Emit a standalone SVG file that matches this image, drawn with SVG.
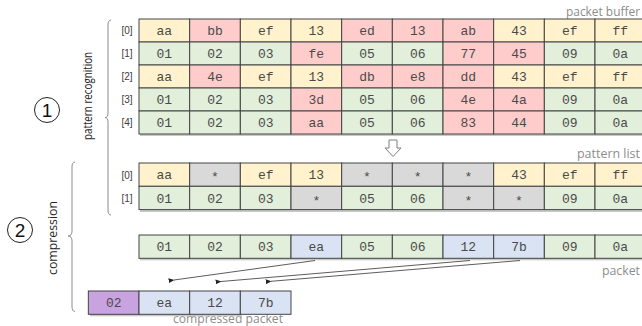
<svg xmlns="http://www.w3.org/2000/svg" width="642" height="326" viewBox="0 0 642 326">
<style>
rect.c{stroke:#444;stroke-width:1}
.y{fill:#fff2cc}.r{fill:#ffcccc}.g{fill:#e2efda}.s{fill:#d9d9d9}.b{fill:#dae3f3}.p{fill:#c9a3e0}
.t{font-family:"Liberation Mono",monospace;font-size:13px;fill:#4a4a4a;text-anchor:middle}
.idx{font-family:"Liberation Sans",sans-serif;font-size:10px;fill:#404040;text-anchor:middle}
.lbl{font-family:"Open Sans","Liberation Sans",sans-serif;font-size:12px;fill:#8c8c8c}
.vt{font-family:"Open Sans","Liberation Sans",sans-serif;font-size:13.5px;fill:#262626;text-anchor:middle}
.num{font-family:"Liberation Sans",sans-serif;font-size:19px;fill:#111;text-anchor:middle}
.brace{fill:none;stroke:#8c8c8c;stroke-width:1}
.sh{fill:#c8c8c8}
</style>
<defs>
<marker id="ah" viewBox="0 0 10 10" refX="1" refY="5" markerWidth="6" markerHeight="6" orient="auto-start-reverse" markerUnits="userSpaceOnUse">
<path d="M0,5 L10,1 L10,9 Z" fill="#222"/>
</marker>
</defs>

<g id="labels">
<text class="lbl" x="640" y="16" text-anchor="end" textLength="74" lengthAdjust="spacingAndGlyphs">packet buffer</text>
<text class="lbl" x="640" y="158" text-anchor="end" textLength="63" lengthAdjust="spacingAndGlyphs">pattern list</text>
<text class="lbl" x="640" y="275" text-anchor="end" textLength="38" lengthAdjust="spacingAndGlyphs">packet</text>
<text class="lbl" x="228" y="322.5" text-anchor="middle" textLength="110" lengthAdjust="spacingAndGlyphs">compressed packet</text>
</g>

<g id="step1">
<circle cx="47" cy="110" r="12.5" fill="#fff" stroke="#222" stroke-width="1"/>
<text class="num" x="47" y="117">1</text>
<text class="vt" transform="translate(92,96) rotate(-90)" textLength="88" lengthAdjust="spacingAndGlyphs">pattern recognition</text>
<path class="brace" d="M111,20 Q108,20 108,25 L108,113 Q108,117.5 105,117.5 Q108,117.5 108,122 L108,210 Q108,215 111,215"/>
</g>

<g id="step2">
<circle cx="20" cy="230" r="12.5" fill="#fff" stroke="#222" stroke-width="1"/>
<text class="num" x="20" y="237">2</text>
<text class="vt" transform="translate(57,238) rotate(-90)" textLength="74" lengthAdjust="spacingAndGlyphs">compression</text>
<path class="brace" d="M75,162 Q72,162 72,167 L72,231 Q72,236 68,236 Q72,236 72,241 L72,306 Q72,311.5 75,311.5"/>
</g>

<g id="packet-buffer">
<rect class="sh" x="140" y="21" width="507" height="115"/>
<g>
<rect class="c y" x="139" y="19" width="50.67" height="23"/><rect class="c r" x="189.67" y="19" width="50.67" height="23"/><rect class="c y" x="240.33" y="19" width="50.67" height="23"/><rect class="c y" x="291" y="19" width="50.67" height="23"/><rect class="c r" x="341.67" y="19" width="50.67" height="23"/><rect class="c r" x="392.33" y="19" width="50.67" height="23"/><rect class="c r" x="443" y="19" width="50.67" height="23"/><rect class="c y" x="493.67" y="19" width="50.67" height="23"/><rect class="c y" x="544.33" y="19" width="50.67" height="23"/><rect class="c y" x="595" y="19" width="50.67" height="23"/>
<rect class="c g" x="139" y="42" width="50.67" height="23"/><rect class="c g" x="189.67" y="42" width="50.67" height="23"/><rect class="c g" x="240.33" y="42" width="50.67" height="23"/><rect class="c r" x="291" y="42" width="50.67" height="23"/><rect class="c g" x="341.67" y="42" width="50.67" height="23"/><rect class="c g" x="392.33" y="42" width="50.67" height="23"/><rect class="c r" x="443" y="42" width="50.67" height="23"/><rect class="c r" x="493.67" y="42" width="50.67" height="23"/><rect class="c g" x="544.33" y="42" width="50.67" height="23"/><rect class="c g" x="595" y="42" width="50.67" height="23"/>
<rect class="c y" x="139" y="65" width="50.67" height="23"/><rect class="c r" x="189.67" y="65" width="50.67" height="23"/><rect class="c y" x="240.33" y="65" width="50.67" height="23"/><rect class="c y" x="291" y="65" width="50.67" height="23"/><rect class="c r" x="341.67" y="65" width="50.67" height="23"/><rect class="c r" x="392.33" y="65" width="50.67" height="23"/><rect class="c r" x="443" y="65" width="50.67" height="23"/><rect class="c y" x="493.67" y="65" width="50.67" height="23"/><rect class="c y" x="544.33" y="65" width="50.67" height="23"/><rect class="c y" x="595" y="65" width="50.67" height="23"/>
<rect class="c g" x="139" y="88" width="50.67" height="23"/><rect class="c g" x="189.67" y="88" width="50.67" height="23"/><rect class="c g" x="240.33" y="88" width="50.67" height="23"/><rect class="c r" x="291" y="88" width="50.67" height="23"/><rect class="c g" x="341.67" y="88" width="50.67" height="23"/><rect class="c g" x="392.33" y="88" width="50.67" height="23"/><rect class="c r" x="443" y="88" width="50.67" height="23"/><rect class="c r" x="493.67" y="88" width="50.67" height="23"/><rect class="c g" x="544.33" y="88" width="50.67" height="23"/><rect class="c g" x="595" y="88" width="50.67" height="23"/>
<rect class="c g" x="139" y="111" width="50.67" height="23"/><rect class="c g" x="189.67" y="111" width="50.67" height="23"/><rect class="c g" x="240.33" y="111" width="50.67" height="23"/><rect class="c r" x="291" y="111" width="50.67" height="23"/><rect class="c g" x="341.67" y="111" width="50.67" height="23"/><rect class="c g" x="392.33" y="111" width="50.67" height="23"/><rect class="c r" x="443" y="111" width="50.67" height="23"/><rect class="c r" x="493.67" y="111" width="50.67" height="23"/><rect class="c g" x="544.33" y="111" width="50.67" height="23"/><rect class="c g" x="595" y="111" width="50.67" height="23"/>
</g>
<g>
<text class="idx" x="127" y="34">[0]</text><text class="idx" x="127" y="57">[1]</text><text class="idx" x="127" y="80">[2]</text><text class="idx" x="127" y="103">[3]</text><text class="idx" x="127" y="126">[4]</text>
<text class="t" x="164.3" y="35">aa</text><text class="t" x="215" y="35">bb</text><text class="t" x="265.7" y="35">ef</text><text class="t" x="316.3" y="35">13</text><text class="t" x="367" y="35">ed</text><text class="t" x="417.7" y="35">13</text><text class="t" x="468.3" y="35">ab</text><text class="t" x="519" y="35">43</text><text class="t" x="569.7" y="35">ef</text><text class="t" x="620.3" y="35">ff</text>
<text class="t" x="164.3" y="58">01</text><text class="t" x="215" y="58">02</text><text class="t" x="265.7" y="58">03</text><text class="t" x="316.3" y="58">fe</text><text class="t" x="367" y="58">05</text><text class="t" x="417.7" y="58">06</text><text class="t" x="468.3" y="58">77</text><text class="t" x="519" y="58">45</text><text class="t" x="569.7" y="58">09</text><text class="t" x="620.3" y="58">0a</text>
<text class="t" x="164.3" y="81">aa</text><text class="t" x="215" y="81">4e</text><text class="t" x="265.7" y="81">ef</text><text class="t" x="316.3" y="81">13</text><text class="t" x="367" y="81">db</text><text class="t" x="417.7" y="81">e8</text><text class="t" x="468.3" y="81">dd</text><text class="t" x="519" y="81">43</text><text class="t" x="569.7" y="81">ef</text><text class="t" x="620.3" y="81">ff</text>
<text class="t" x="164.3" y="104">01</text><text class="t" x="215" y="104">02</text><text class="t" x="265.7" y="104">03</text><text class="t" x="316.3" y="104">3d</text><text class="t" x="367" y="104">05</text><text class="t" x="417.7" y="104">06</text><text class="t" x="468.3" y="104">4e</text><text class="t" x="519" y="104">4a</text><text class="t" x="569.7" y="104">09</text><text class="t" x="620.3" y="104">0a</text>
<text class="t" x="164.3" y="127">01</text><text class="t" x="215" y="127">02</text><text class="t" x="265.7" y="127">03</text><text class="t" x="316.3" y="127">aa</text><text class="t" x="367" y="127">05</text><text class="t" x="417.7" y="127">06</text><text class="t" x="468.3" y="127">83</text><text class="t" x="519" y="127">44</text><text class="t" x="569.7" y="127">09</text><text class="t" x="620.3" y="127">0a</text>
</g>
</g>

<g id="down-arrow">
<path d="M389,140 L397,140 L397,148 L401,148 L393,156.5 L385,148 L389,148 Z" fill="#fff" stroke="#7f7f7f" stroke-width="1"/>
</g>

<g id="pattern-list">
<rect class="sh" x="140" y="165" width="507" height="47"/>
<rect class="c y" x="139" y="163" width="50.67" height="23.3"/><rect class="c s" x="189.67" y="163" width="50.67" height="23.3"/><rect class="c y" x="240.33" y="163" width="50.67" height="23.3"/><rect class="c y" x="291" y="163" width="50.67" height="23.3"/><rect class="c s" x="341.67" y="163" width="50.67" height="23.3"/><rect class="c s" x="392.33" y="163" width="50.67" height="23.3"/><rect class="c s" x="443" y="163" width="50.67" height="23.3"/><rect class="c y" x="493.67" y="163" width="50.67" height="23.3"/><rect class="c y" x="544.33" y="163" width="50.67" height="23.3"/><rect class="c y" x="595" y="163" width="50.67" height="23.3"/>
<rect class="c g" x="139" y="186.3" width="50.67" height="23.3"/><rect class="c g" x="189.67" y="186.3" width="50.67" height="23.3"/><rect class="c g" x="240.33" y="186.3" width="50.67" height="23.3"/><rect class="c s" x="291" y="186.3" width="50.67" height="23.3"/><rect class="c g" x="341.67" y="186.3" width="50.67" height="23.3"/><rect class="c g" x="392.33" y="186.3" width="50.67" height="23.3"/><rect class="c s" x="443" y="186.3" width="50.67" height="23.3"/><rect class="c s" x="493.67" y="186.3" width="50.67" height="23.3"/><rect class="c g" x="544.33" y="186.3" width="50.67" height="23.3"/><rect class="c g" x="595" y="186.3" width="50.67" height="23.3"/>
<text class="idx" x="127" y="178.5">[0]</text><text class="idx" x="127" y="202">[1]</text>
<text class="t" x="164.3" y="179">aa</text><text class="t" x="215" y="181">*</text><text class="t" x="265.7" y="179">ef</text><text class="t" x="316.3" y="179">13</text><text class="t" x="367" y="181">*</text><text class="t" x="417.7" y="181">*</text><text class="t" x="468.3" y="181">*</text><text class="t" x="519" y="179">43</text><text class="t" x="569.7" y="179">ef</text><text class="t" x="620.3" y="179">ff</text>
<text class="t" x="164.3" y="202.5">01</text><text class="t" x="215" y="202.5">02</text><text class="t" x="265.7" y="202.5">03</text><text class="t" x="316.3" y="204.5">*</text><text class="t" x="367" y="202.5">05</text><text class="t" x="417.7" y="202.5">06</text><text class="t" x="468.3" y="204.5">*</text><text class="t" x="519" y="204.5">*</text><text class="t" x="569.7" y="202.5">09</text><text class="t" x="620.3" y="202.5">0a</text>
</g>

<g id="packet">
<rect class="sh" x="140" y="237" width="507" height="23.3"/>
<rect class="c g" x="139" y="235" width="50.67" height="23.3"/><rect class="c g" x="189.67" y="235" width="50.67" height="23.3"/><rect class="c g" x="240.33" y="235" width="50.67" height="23.3"/><rect class="c b" x="291" y="235" width="50.67" height="23.3"/><rect class="c g" x="341.67" y="235" width="50.67" height="23.3"/><rect class="c g" x="392.33" y="235" width="50.67" height="23.3"/><rect class="c b" x="443" y="235" width="50.67" height="23.3"/><rect class="c b" x="493.67" y="235" width="50.67" height="23.3"/><rect class="c g" x="544.33" y="235" width="50.67" height="23.3"/><rect class="c g" x="595" y="235" width="50.67" height="23.3"/>
<text class="t" x="164.3" y="251">01</text><text class="t" x="215" y="251">02</text><text class="t" x="265.7" y="251">03</text><text class="t" x="316.3" y="251">ea</text><text class="t" x="367" y="251">05</text><text class="t" x="417.7" y="251">06</text><text class="t" x="468.3" y="251">12</text><text class="t" x="519" y="251">7b</text><text class="t" x="569.7" y="251">09</text><text class="t" x="620.3" y="251">0a</text>
</g>

<g id="compressed-packet">
<rect class="sh" x="90" y="293" width="152" height="23.3"/>
<rect class="c p" x="88.33" y="291" width="50.67" height="23.3"/><rect class="c b" x="139" y="291" width="50.67" height="23.3"/><rect class="c b" x="189.67" y="291" width="50.67" height="23.3"/><rect class="c b" x="240.33" y="291" width="50.67" height="23.3"/>
<text class="t" x="113.7" y="307">02</text><text class="t" x="164.3" y="307">ea</text><text class="t" x="215" y="307">12</text><text class="t" x="265.7" y="307">7b</text>
</g>

<g id="connectors" fill="none" stroke="#333" stroke-width="0.8">
<line x1="315" y1="260.5" x2="174" y2="280" marker-end="url(#ah)"/>
<line x1="470" y1="260.5" x2="221" y2="281.5" marker-end="url(#ah)"/>
<line x1="520" y1="260.5" x2="271" y2="281.3" marker-end="url(#ah)"/>
</g>
</svg>
